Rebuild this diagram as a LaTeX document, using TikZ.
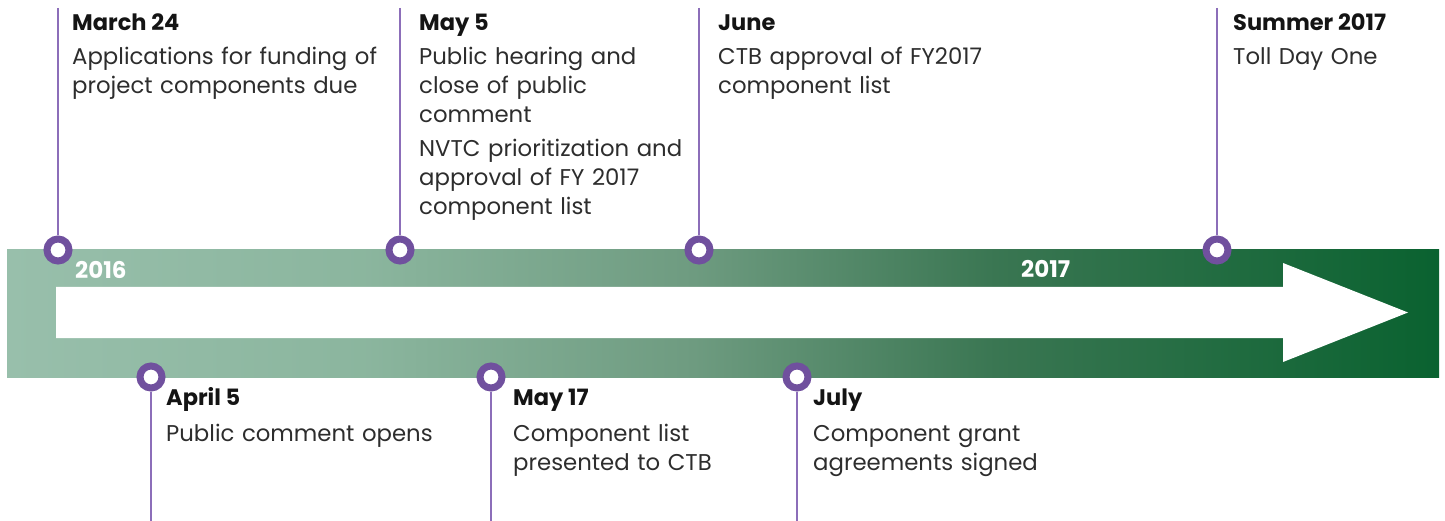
\documentclass[tikz,border=0pt]{standalone}
\usepackage{fontspec}
\setmainfont{Poppins}
\definecolor{purp}{RGB}{112,80,158}
\definecolor{purpline}{RGB}{140,110,185}
\definecolor{desctext}{RGB}{45,45,45}
\definecolor{titletext}{RGB}{20,20,20}
\pgfdeclarehorizontalshading{bandshade}{100bp}{%
  rgb(0bp)=(0.596,0.749,0.671);
  rgb(25bp)=(0.596,0.749,0.671);
  rgb(37.5bp)=(0.545,0.712,0.620);
  rgb(49bp)=(0.431,0.608,0.502);
  rgb(59.5bp)=(0.227,0.463,0.322);
  rgb(75bp)=(0.039,0.384,0.188);
  rgb(100bp)=(0.039,0.384,0.188)}
\tikzset{
  dot/.style={circle, draw=purp, line width=7pt, fill=white, minimum size=22pt, inner sep=0pt},
  vline/.style={draw=purpline, line width=1.4pt},
  evtitle/.style={anchor=base west, inner sep=0pt, text=titletext, font=\fontsize{22.5}{29}\selectfont\bfseries},
  evdesc/.style={anchor=base west, inner sep=0pt, text=desctext, text width=340pt, align=left, font=\fontsize{22.8}{29}\selectfont},
  year/.style={anchor=base west, inner sep=0pt, text=white, font=\fontsize{23}{26}\selectfont\bfseries}
}
\begin{document}
\begin{tikzpicture}[x=1pt,y=-1pt]
\useasboundingbox (0,0) rectangle (1445,521);
% band
\path[shading=bandshade] (7,250) rectangle (1439,377);
\fill[white] (56,287) -- (1283,287) -- (1283,263) -- (1408,312.5) -- (1283,362) -- (1283,338) -- (56,338) -- cycle;
% year labels
\node[year] (y16) at (75,279) {2016};
\node[year] (y17) at (1021,277) {2017};
% circles
\node[dot] (c1) at (58,250) {};
\node[dot] (c2) at (400,250) {};
\node[dot] (c3) at (699,250) {};
\node[dot] (c4) at (1217,250) {};
\node[dot] (c5) at (151,377) {};
\node[dot] (c6) at (491,377) {};
\node[dot] (c7) at (797,377) {};
% line ends
\coordinate (t1) at (58,8);
\coordinate (t2) at (400,8);
\coordinate (t3) at (699,8);
\coordinate (t4) at (1217,8);
\coordinate (b5) at (151,521);
\coordinate (b6) at (491,521);
\coordinate (b7) at (797,521);
\draw[vline] (t1) -- (c1);
\draw[vline] (t2) -- (c2);
\draw[vline] (t3) -- (c3);
\draw[vline] (t4) -- (c4);
\draw[vline] (c5) -- (b5);
\draw[vline] (c6) -- (b6);
\draw[vline] (c7) -- (b7);
% texts above
\node[evtitle] (h1) at (72,31) {March 24};
\node[evdesc] (d1) at (72,65) {Applications for funding of\\project components due};
\node[evtitle] (h2) at (419,31) {May 5};
\node[evdesc] (d2) at (419,65) {Public hearing and\\close of public\\comment\\[5pt]NVTC prioritization and\\approval of FY 2017\\component list};
\node[evtitle] (h3) at (718,31) {June};
\node[evdesc] (d3) at (718,65) {CTB approval of FY2017\\component list};
\node[evtitle] (h4) at (1233,31) {Summer 2017};
\node[evdesc] (d4) at (1233,65) {Toll Day One};
% texts below
\node[evtitle] (h5) at (166,405) {April 5};
\node[evdesc] (d5) at (166,441) {Public comment opens};
\node[evtitle] (h6) at (513,405) {May 17};
\node[evdesc] (d6) at (513,441) {Component list\\presented to CTB};
\node[evtitle] (h7) at (813,405) {July};
\node[evdesc] (d7) at (813,441) {Component grant\\agreements signed};
\end{tikzpicture}
\end{document}
